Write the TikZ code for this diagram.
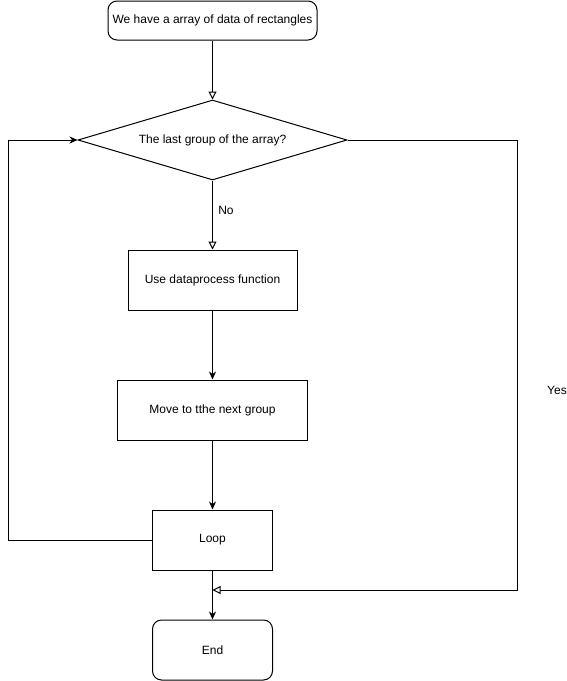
\documentclass[tikz,border=0pt]{standalone}
\usepackage{fontspec}
\setmainfont{Liberation Sans}
\usetikzlibrary{shapes,arrows.meta,positioning}

\begin{document}
\begin{tikzpicture}[x=1pt, y=-1pt, line width=1pt, font=\fontsize{12}{14}\selectfont]
    \tikzset{bx/.style={
      rectangle,
      draw,
      fill=white,
      minimum height=60pt,
      align=center},
      rbx/.style={bx, rounded corners=9pt},
      opn/.style={-{Triangle[open,length=8pt,width=8pt]}},
      cls/.style={-{Stealth[length=8pt,width=7pt,inset=2.5pt]}}}
    \useasboundingbox (0, 0) rectangle (567, 681);
    \node[rbx, minimum width=209pt, minimum height=39pt] at (212.5, 20.5) (data) {We have a array of data of rectangles};
    \node[diamond, draw, fill=white, aspect=3.36, inner sep=0pt, minimum width=269pt, minimum height=80pt] at (212.5, 140) (last) {The last group of the array?};
    \node[bx, minimum width=169pt] at (212.5, 280) (proc) {Use dataprocess function};
    \node[bx, minimum width=190pt] at (212.5, 410) (move) {Move to tthe next group};
    \node[bx, minimum width=120pt] at (212.5, 540) (loop) {Loop};
    \node[rbx, minimum width=120pt] at (212.5, 650) (fin) {End};
    \node at (557, 390) (yes) {Yes};
    \coordinate (back) at (8, 540);
    \coordinate (side) at (517, 590);
    \coordinate (merge) at (212.5, 590);
    \draw[opn] (data) -- (last);
    \draw[opn] (last) -- node[right, pos=0.43, xshift=2pt] {No} (proc);
    \draw[cls] (proc) -- (move);
    \draw[cls] (move) -- (loop);
    \draw[cls] (loop) -- (fin);
    \draw[cls] (loop.west) -- (back) |- (last.west);
    \draw[opn] (last.east) -| (side) -- (merge);
  \end{tikzpicture}
\end{document}
